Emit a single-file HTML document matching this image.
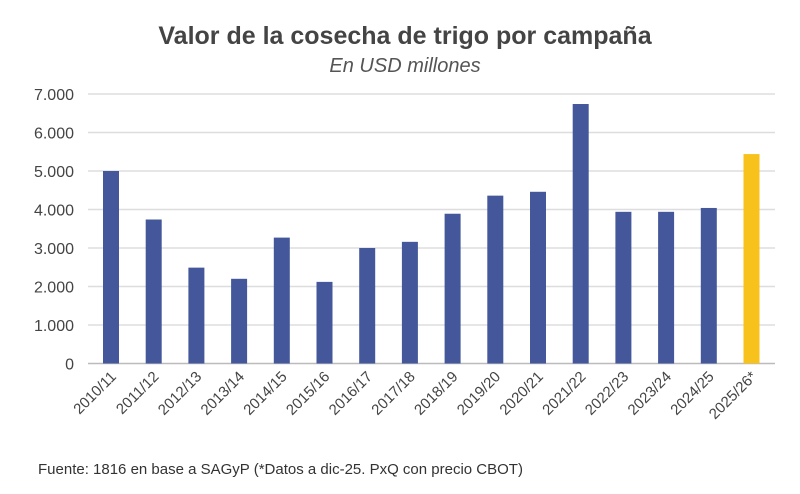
<!DOCTYPE html>
<html><head><meta charset="utf-8"><style>
body{margin:0;background:#fff;width:800px;height:489px;overflow:hidden;font-family:"Liberation Sans",sans-serif}
</style></head><body>
<svg width="800" height="489">
<text x="405" y="44" text-anchor="middle" font-size="25" font-weight="bold" fill="#444">Valor de la cosecha de trigo por campaña</text>
<text x="405" y="72" text-anchor="middle" font-size="20" font-style="italic" fill="#555">En USD millones</text>
<g id="grid"></g><g id="bars"></g><g id="xl"></g>
<text x="38" y="474" font-size="15" fill="#333">Fuente: 1816 en base a SAGyP (*Datos a dic-25. PxQ con precio CBOT)</text>
</svg>
<script>
const categories=["2010/11","2011/12","2012/13","2013/14","2014/15","2015/16","2016/17","2017/18","2018/19","2019/20","2020/21","2021/22","2022/23","2023/24","2024/25","2025/26*"];
const values=[5000,3740,2490,2200,3270,2120,3000,3160,3890,4360,4460,6740,3940,3940,4040,5440];
const highlight=[false,false,false,false,false,false,false,false,false,false,false,false,false,false,false,true];
const ticks=[0,1000,2000,3000,4000,5000,6000,7000];
const tickLabels=["0","1.000","2.000","3.000","4.000","5.000","6.000","7.000"];
const NS="http://www.w3.org/2000/svg";
const y=v=>363.5-v*(269.5/7000);
const x=i=>111+i*42.7;
const g=document.getElementById('grid'),b=document.getElementById('bars'),xl=document.getElementById('xl');
function mk(t,a,p){const e=document.createElementNS(NS,t);for(const k in a)e.setAttribute(k,a[k]);p.appendChild(e);return e;}
ticks.forEach((t,i)=>{
 const l=mk('line',{x1:88,x2:775,y1:y(t),y2:y(t),stroke:i==0?'#bbb':'#ddd','stroke-width':1.5},g);
 
 
 const tx=mk('text',{x:74,y:y(t)+6,'text-anchor':'end','font-size':16,fill:'#444'},g);
 tx.textContent=tickLabels[i];
 
 
});
values.forEach((v,i)=>{
 const r=mk('rect',{x:x(i)-8,y:y(v),width:16,height:y(0)-y(v),fill:highlight[i]?'#f8c21c':'#44579a'},b);
 
 
 const t=mk('text',{transform:`translate(${x(i)+6},${y(0)+14}) rotate(-45)`,'text-anchor':'end','font-size':15,fill:'#444'},xl);
 t.textContent=categories[i];
 
 
});
</script>
</body></html>
